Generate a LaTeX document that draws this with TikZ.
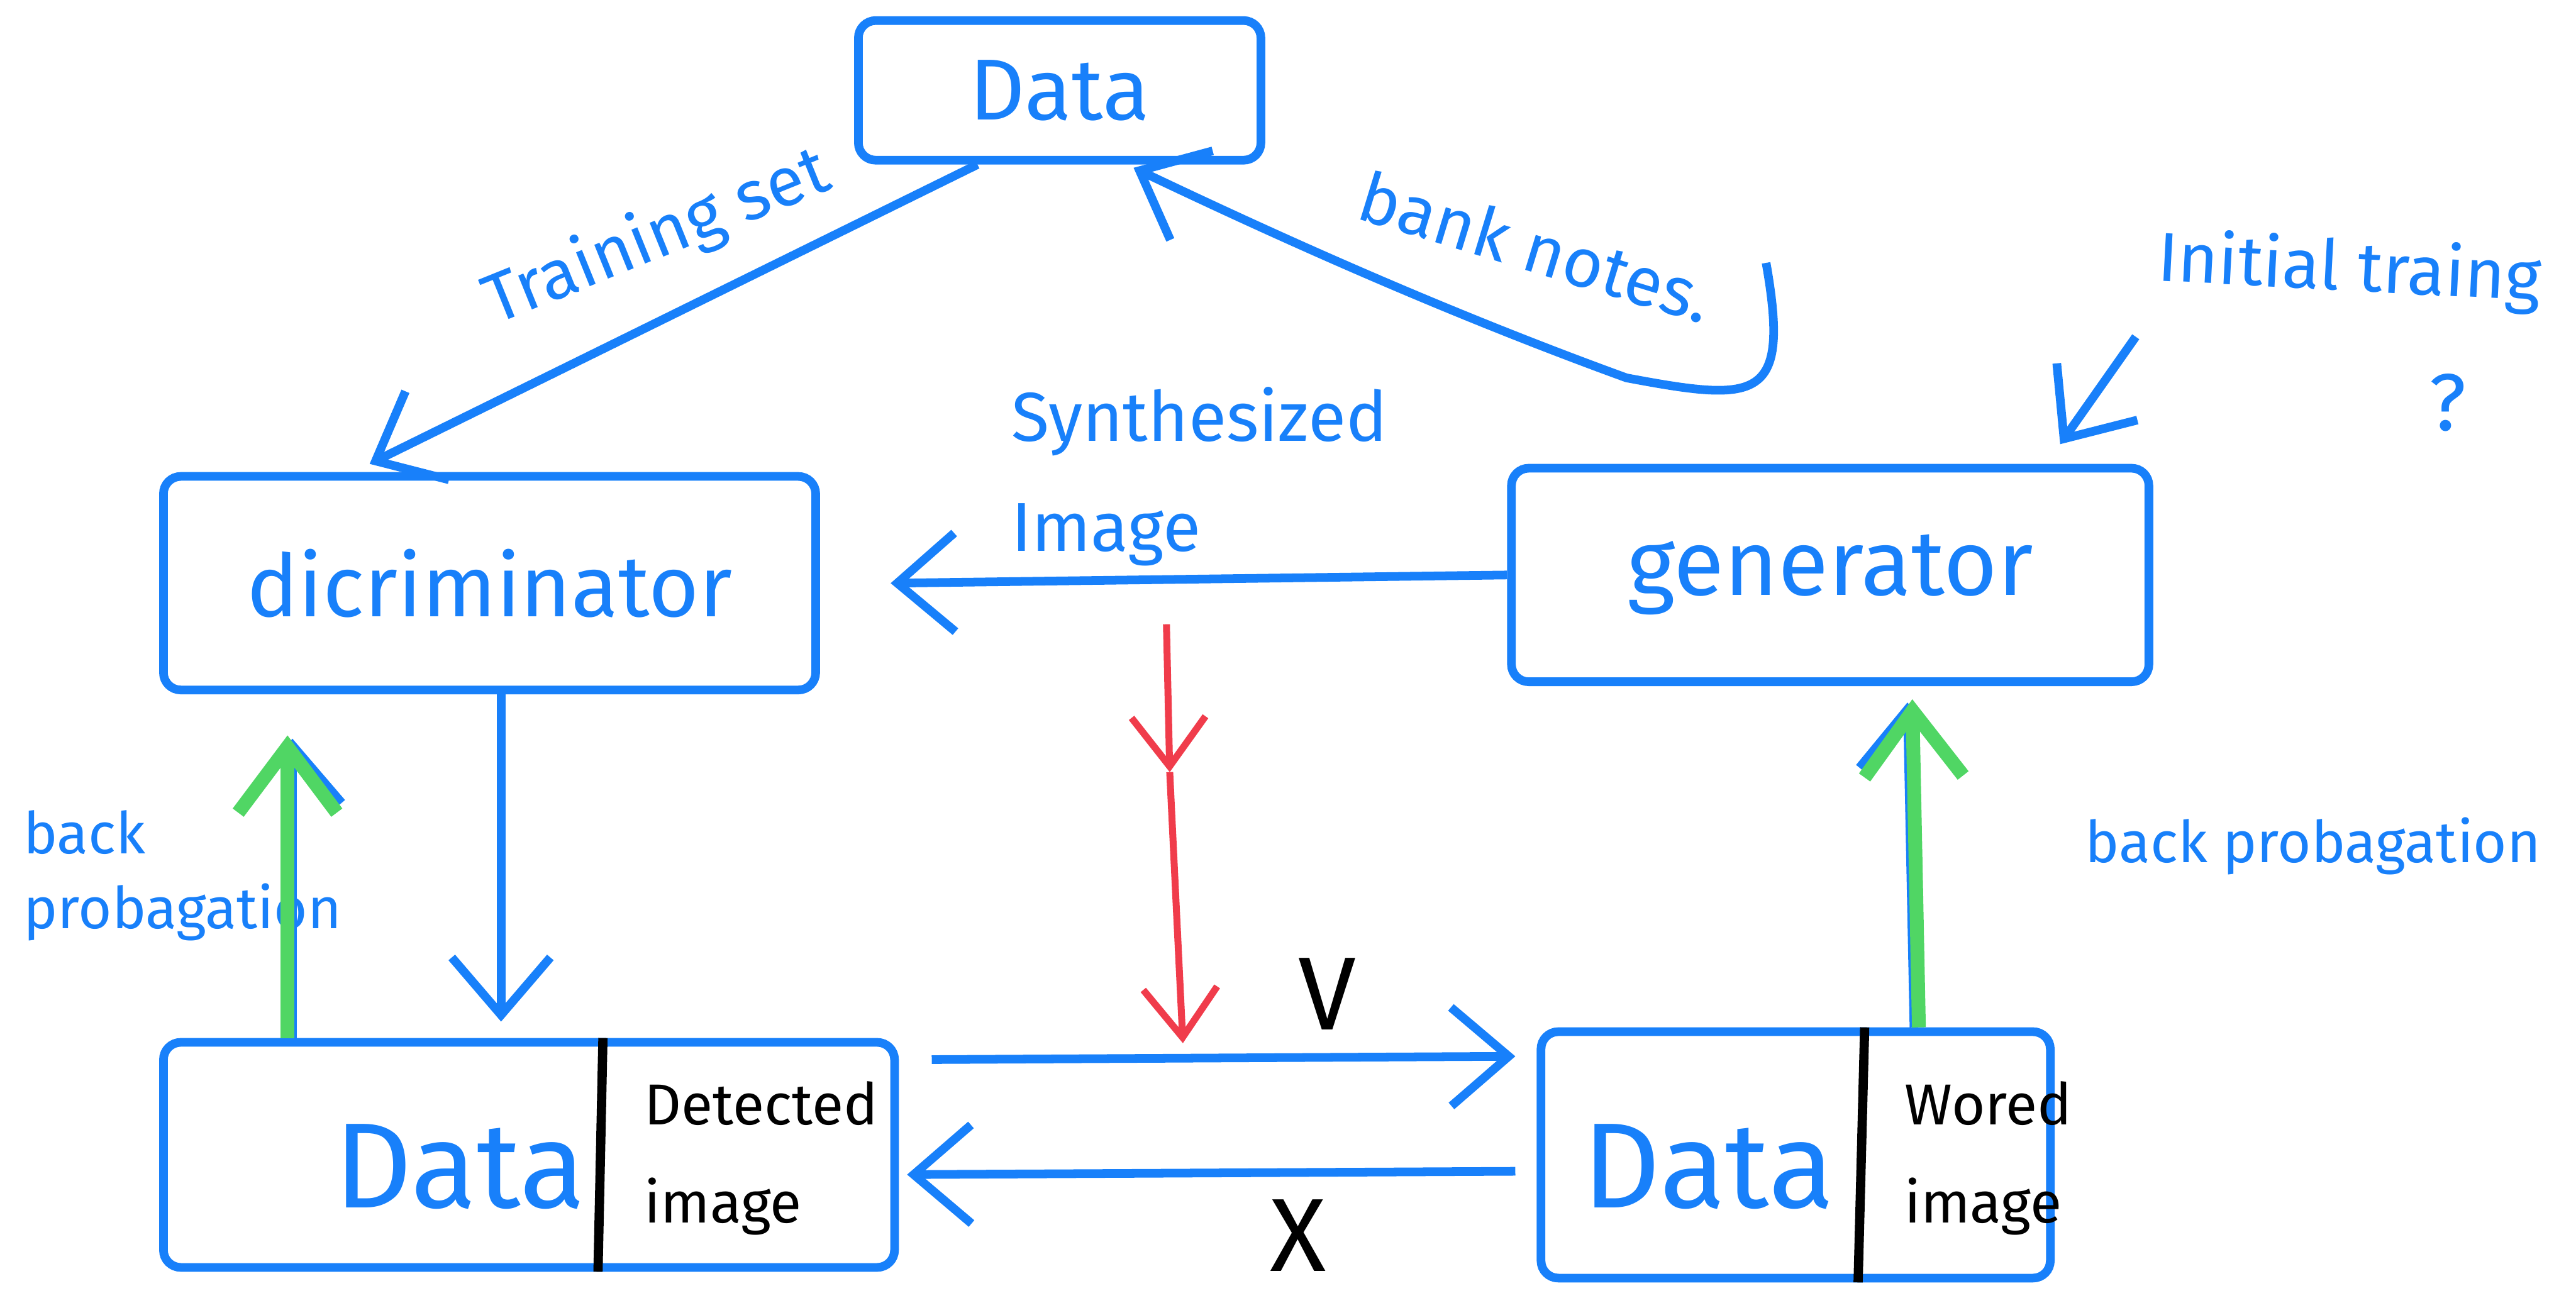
\documentclass[tikz,border=0pt]{standalone}
\usepackage{fontspec}
\setmainfont{Fira Sans}
\usetikzlibrary{arrows.meta}
\definecolor{penblue}{RGB}{24,128,250}
\definecolor{pengreen}{RGB}{80,214,100}
\definecolor{penred}{RGB}{240,60,75}

\begin{document}
\begin{tikzpicture}
	 \tikzstyle{box}=[rectangle,draw=penblue,line width=1.5pt,rounded corners=3pt,inner sep=0pt]
	 \tikzstyle{pen}=[text=penblue,inner sep=1pt]
	 \tikzstyle{ink}=[text=black,inner sep=1pt]
	 \tikzstyle{edge}=[draw=penblue,line width=1.5pt,-{Straight Barb[length=3.5mm,width=6mm]}]
	 \tikzstyle{green edge}=[draw=pengreen,line width=2.4pt,-{Straight Barb[length=4mm,width=6mm]}]
	 \tikzstyle{red edge}=[draw=penred,line width=1.2pt,-{Straight Barb[length=3mm,width=4.5mm]}]
	 \tikzstyle{divider}=[draw=black,line width=1.6pt]
	 \useasboundingbox (0,0) rectangle (15.68,-7.93);
	 \node[box,minimum width=2.45cm,minimum height=0.85cm,pen,font=\fontsize{15}{18}\selectfont] (data) at (6.45,-0.55) {Data};
	 \node[box,minimum width=3.97cm,minimum height=1.3cm,pen,font=\fontsize{15}{18}\selectfont] (disc) at (2.98,-3.55) {dicriminator};
	 \node[box,minimum width=3.88cm,minimum height=1.3cm,pen,font=\fontsize{16}{19}\selectfont] (gen) at (11.14,-3.5) {generator};
	 \node[box,minimum width=4.45cm,minimum height=1.37cm] (dl) at (3.22,-7.03) {};
	 \node[box,minimum width=3.1cm,minimum height=1.5cm] (dr) at (10.93,-7.03) {};
	 \node[pen,font=\fontsize{21}{24}\selectfont] (dlname) at (2.8,-7.1) {Data};
	 \node[pen,font=\fontsize{21}{24}\selectfont] (drname) at (10.4,-7.1) {Data};
	 \node[ink,anchor=west,align=left,font=\fontsize{10}{17}\selectfont] (dldesc) at (3.88,-7.05) {Detected\\image};
	 \node[ink,anchor=west,align=left,font=\fontsize{10}{17}\selectfont] (drdesc) at (11.55,-7.05) {Wored\\image};
	 \node[pen,rotate=22,font=\fontsize{12}{14}\selectfont] (train) at (4.0,-1.45) {Training set};
	 \node[pen,rotate=-17,font=\fontsize{12}{14}\selectfont] (notes) at (9.35,-1.5) {bank notes.};
	 \node[pen,rotate=-3,font=\fontsize{12}{14}\selectfont] (init) at (14.3,-1.65) {Initial traing};
	 \node[pen,font=\fontsize{14}{16}\selectfont] (quest) at (14.9,-2.45) {?};
	 \node[pen,align=left,font=\fontsize{12}{19}\selectfont] (synth) at (7.3,-2.9) {Synthesized\\Image};
	 \node[pen,anchor=west,align=left,font=\fontsize{10}{13}\selectfont] (bpl) at (0.1,-5.33) {back\\probagation};
	 \node[pen,anchor=west,font=\fontsize{10}{12}\selectfont] (bpr) at (12.65,-5.15) {back probagation};
	 \node[ink,font=\fontsize{18}{20}\selectfont] (yes) at (8.08,-6.05) {V};
	 \node[ink,font=\fontsize{18}{20}\selectfont] (no) at (7.9,-7.52) {X};
	 \coordinate (bn) at (10.75,-1.6);
	 \coordinate (it) at (13.0,-2.05);
	 \coordinate (rs) at (7.1,-3.8);
	 \coordinate (rm) at (7.12,-4.7);
	 \coordinate (re) at (7.2,-6.35);
	 \draw[divider] ([xshift=0.45cm]dl.north) -- ([xshift=0.42cm]dl.south);
	 \draw[divider] ([xshift=0.42cm]dr.north) -- ([xshift=0.38cm]dr.south);
	 \draw[edge] ([xshift=-0.5cm]data.south) -- ([xshift=-0.73cm,yshift=0.05cm]disc.north);
	 \draw[edge] (bn) .. controls (10.9,-2.45) and (10.7,-2.45) .. (9.9,-2.3) .. controls (8.8,-1.9) and (7.8,-1.45) .. ([xshift=0.45cm,yshift=-0.02cm]data.south);
	 \draw[edge] (it) -- ([xshift=1.4cm,yshift=0.12cm]gen.north);
	 \draw[edge] (gen.west) -- ([xshift=0.43cm]disc.east);
	 \draw[edge] ([xshift=0.07cm]disc.south) -- ([xshift=-0.17cm,yshift=0.1cm]dl.north);
	 \draw[edge] ([xshift=0.2cm,yshift=0.58cm]dl.east) -- ([xshift=-0.13cm,yshift=0.6cm]dr.west);
	 \draw[edge] ([xshift=-0.13cm,yshift=-0.1cm]dr.west) -- ([xshift=0.05cm,yshift=-0.12cm]dl.east);
	 \draw[edge] ([xshift=-1.44cm]dl.north) -- ([xshift=-1.2cm,yshift=-0.27cm]disc.south);
	 \draw[green edge] ([xshift=-1.47cm]dl.north) -- ([xshift=-1.23cm,yshift=-0.25cm]disc.south);
	 \draw[edge] ([xshift=0.72cm]dr.north) -- ([xshift=0.47cm,yshift=-0.1cm]gen.south);
	 \draw[green edge] ([xshift=0.75cm]dr.north) -- ([xshift=0.5cm,yshift=-0.08cm]gen.south);
	 \draw[red edge] (rs) -- (rm);
	 \draw[red edge] (rm) -- (re);
\end{tikzpicture}
\end{document}
